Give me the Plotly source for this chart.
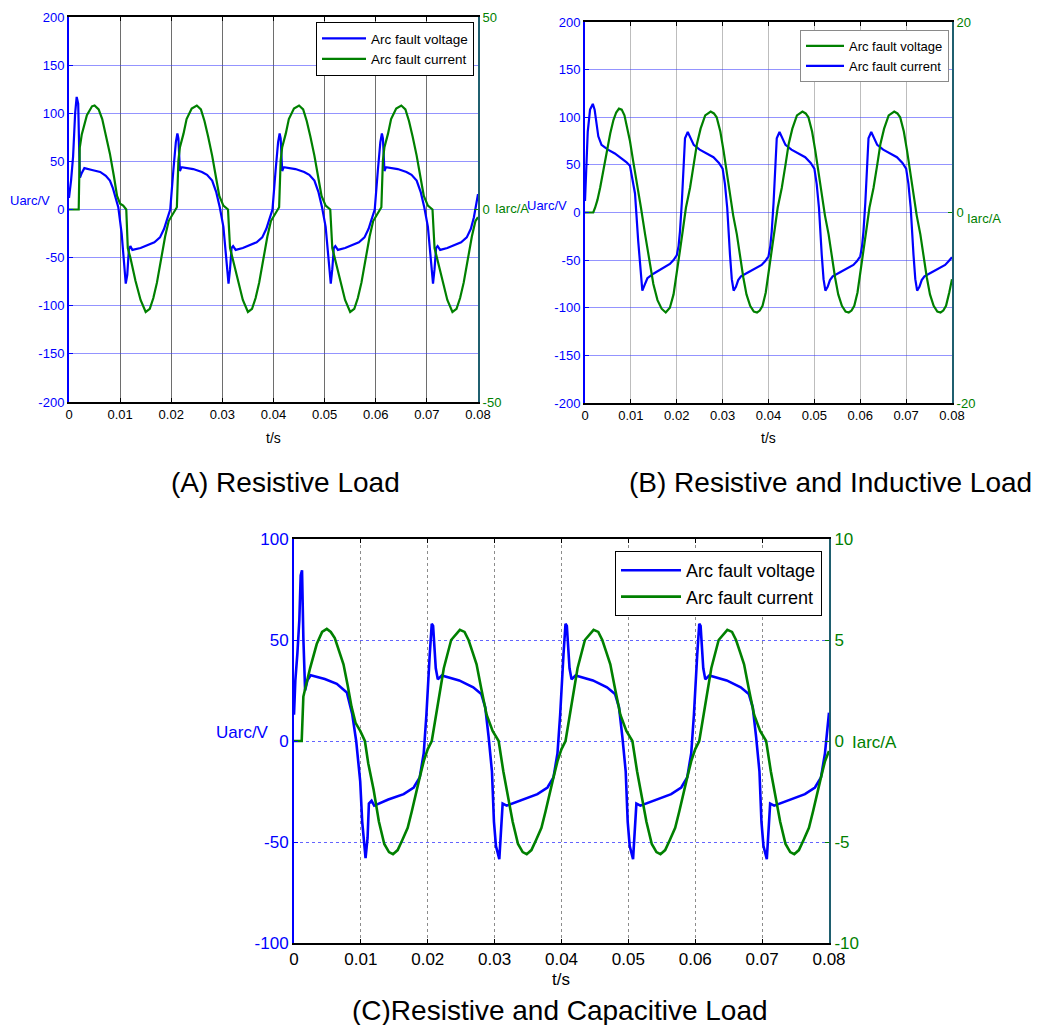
import plotly.graph_objects as go

# ---------------- data ----------------
x_tickvals = [0, 0.01, 0.02, 0.03, 0.04, 0.05, 0.06, 0.07, 0.08]
x_ticktext = ["0", "0.01", "0.02", "0.03", "0.04", "0.05", "0.06", "0.07", "0.08"]

# (A) Resistive load
t_a_volt = [0, 0.0004, 0.0008, 0.0012, 0.0015, 0.0018, 0.0020, 0.00215, 0.0025, 0.0030, 0.0045, 0.0061, 0.0072, 0.0080, 0.0086, 0.0090, 0.00965, 0.0103, 0.0107, 0.0111, 0.0114, 0.0117, 0.0120, 0.0124, 0.0140, 0.0155, 0.0167, 0.0178, 0.0186, 0.0192, 0.0198,
            0.0204, 0.0209, 0.0212, 0.0214, 0.0217, 0.0220, 0.0243, 0.0260, 0.0270, 0.0280, 0.0288, 0.0295, 0.0302, 0.0308, 0.0312, 0.0315, 0.0318, 0.0321, 0.0326, 0.0340, 0.0355, 0.0367, 0.0378, 0.0386, 0.0392, 0.0398,
            0.0404, 0.0409, 0.0412, 0.0414, 0.0417, 0.0420, 0.0443, 0.0460, 0.0470, 0.0480, 0.0488, 0.0495, 0.0502, 0.0508, 0.0512, 0.0515, 0.0518, 0.0521, 0.0526, 0.0540, 0.0555, 0.0567, 0.0578, 0.0586, 0.0592, 0.0598,
            0.0604, 0.0609, 0.0612, 0.0614, 0.0617, 0.0620, 0.0643, 0.0660, 0.0670, 0.0680, 0.0688, 0.0695, 0.0702, 0.0708, 0.0712, 0.0715, 0.0718, 0.0721, 0.0726, 0.0740, 0.0755, 0.0767, 0.0778, 0.0786, 0.0792, 0.0800]
u_a_volt = [12, 30, 55, 100, 117, 110, 60, 33, 38, 43, 41, 39, 35, 30, 22, 15, 2, -25, -55, -77, -68, -42, -38, -42, -40, -37, -34, -29, -20, -10, 0,
            40, 70, 79, 74, 40, 44, 42, 39, 36, 30, 18, 2, -18, -53, -77, -62, -40, -38, -42, -40, -37, -34, -29, -20, -10, 0,
            40, 70, 79, 74, 40, 44, 42, 39, 36, 30, 18, 2, -18, -53, -77, -62, -40, -38, -42, -40, -37, -34, -29, -20, -10, 0,
            40, 70, 79, 74, 40, 44, 42, 39, 36, 30, 18, 2, -18, -53, -77, -62, -40, -38, -42, -40, -37, -34, -29, -20, -8, 16]
t_a_cur = [0, 0.0019, 0.0021, 0.0025, 0.0035, 0.0045, 0.0050, 0.0058, 0.0065, 0.0072, 0.0080, 0.0088, 0.0094, 0.0100, 0.0106, 0.0112, 0.0115, 0.0120, 0.0130, 0.0140, 0.0150, 0.0158, 0.0165, 0.0172, 0.0180, 0.0188, 0.0195, 0.0200,
           0.0207, 0.0211, 0.0214, 0.0217, 0.0224, 0.0230, 0.0240, 0.0250, 0.0258, 0.0265, 0.0272, 0.0280, 0.0288, 0.0294, 0.0302, 0.0311, 0.0315, 0.0320, 0.0330, 0.0340, 0.0350, 0.0358, 0.0365, 0.0372, 0.0380, 0.0388, 0.0395, 0.0400,
           0.0407, 0.0411, 0.0414, 0.0417, 0.0424, 0.0430, 0.0440, 0.0450, 0.0458, 0.0465, 0.0472, 0.0480, 0.0488, 0.0494, 0.0502, 0.0511, 0.0515, 0.0520, 0.0530, 0.0540, 0.0550, 0.0558, 0.0565, 0.0572, 0.0580, 0.0588, 0.0595, 0.0600,
           0.0607, 0.0611, 0.0614, 0.0617, 0.0624, 0.0630, 0.0640, 0.0650, 0.0658, 0.0665, 0.0672, 0.0680, 0.0688, 0.0694, 0.0702, 0.0711, 0.0715, 0.0720, 0.0730, 0.0740, 0.0750, 0.0758, 0.0765, 0.0772, 0.0780, 0.0788, 0.0795, 0.0800]
i_a_cur = [0, 0, 16, 19.5, 24.5, 26.8, 27, 26, 23.5, 19.5, 14.5, 8.5, 3.5, 1.5, 1, 0, -10, -12.5, -18.5, -23.5, -26.6, -25.8, -23, -19, -13, -7, -3, -1.8,
           0, 0.6, 12.8, 16.2, 19.7, 23.5, 26.2, 27, 26, 23, 19, 14, 8, 3.5, 1, 0, -10, -12.8, -18.5, -23.5, -26.6, -25.8, -23, -19, -13, -7, -3, -1.8,
           0, 0.6, 12.8, 16.2, 19.7, 23.5, 26.2, 27, 26, 23, 19, 14, 8, 3.5, 1, 0, -10, -12.8, -18.5, -23.5, -26.6, -25.8, -23, -19, -13, -7, -3, -1.8,
           0, 0.6, 12.8, 16.2, 19.7, 23.5, 26.2, 27, 26, 23, 19, 14, 8, 3.5, 1, 0, -10, -12.8, -18.5, -23.5, -26.6, -25.8, -23, -19, -13, -7, -3, -2]

# (B) Resistive and inductive load
t_b_volt = [0, 0.0003, 0.0006, 0.0011, 0.0017, 0.0021, 0.0029, 0.0036, 0.0050, 0.0065, 0.0080, 0.0090, 0.0098, 0.0104, 0.0109, 0.0116, 0.0120, 0.0125, 0.0130, 0.0136, 0.0150, 0.0170, 0.0185, 0.0193, 0.0200,
            0.0204, 0.0207, 0.0211, 0.0215, 0.0218, 0.0224, 0.0231, 0.0237, 0.0250, 0.0265, 0.0280, 0.0292, 0.0300, 0.0305, 0.0310, 0.0316, 0.0320, 0.0324, 0.0329, 0.0334, 0.0340, 0.0355, 0.0370, 0.0385, 0.0393, 0.0400,
            0.0404, 0.0407, 0.0411, 0.0415, 0.0418, 0.0424, 0.0431, 0.0437, 0.0450, 0.0465, 0.0480, 0.0492, 0.0500, 0.0505, 0.0510, 0.0516, 0.0520, 0.0524, 0.0529, 0.0534, 0.0540, 0.0555, 0.0570, 0.0585, 0.0593, 0.0600,
            0.0604, 0.0607, 0.0611, 0.0615, 0.0618, 0.0624, 0.0631, 0.0637, 0.0650, 0.0665, 0.0680, 0.0692, 0.0700, 0.0705, 0.0710, 0.0716, 0.0720, 0.0724, 0.0729, 0.0734, 0.0740, 0.0755, 0.0770, 0.0785, 0.0793, 0.0800]
u_b_volt = [12, 60, 85, 108, 114, 108, 80, 71, 66, 62, 57, 53, 49, 35, 20, -30, -55, -82, -76, -69, -64, -58, -54, -50, -45,
            -35, -20, 10, 50, 78, 84.5, 78, 71, 66, 62, 58, 52, 46, 30, 5, -44, -70, -82, -78, -71, -67, -63, -59, -55, -51, -46,
            -35, -20, 10, 50, 78, 84.5, 78, 71, 66, 62, 58, 52, 46, 30, 5, -44, -70, -82, -78, -71, -67, -63, -59, -55, -51, -46,
            -35, -20, 10, 50, 78, 84.5, 78, 71, 66, 62, 58, 52, 46, 30, 5, -44, -70, -82, -78, -71, -67, -63, -59, -55, -51, -47]
t_b_cur = [0, 0.0018, 0.0022, 0.0027, 0.0033, 0.0040, 0.0047, 0.0055, 0.0062, 0.0068, 0.0074, 0.0080, 0.0086, 0.0092, 0.0098, 0.0105, 0.0113, 0.0122, 0.0131, 0.0140, 0.0149, 0.0158, 0.0167, 0.0176, 0.0185, 0.0193, 0.0200,
           0.0207, 0.0214, 0.0220, 0.0229, 0.0237, 0.0244, 0.0252, 0.0262, 0.0274, 0.0281, 0.0287, 0.0295, 0.0302, 0.0309, 0.0316, 0.0323, 0.0331, 0.0338, 0.0345, 0.0352, 0.0360, 0.0368, 0.0375, 0.0381, 0.0387, 0.0394, 0.0400,
           0.0407, 0.0414, 0.0420, 0.0429, 0.0437, 0.0444, 0.0452, 0.0462, 0.0474, 0.0481, 0.0487, 0.0495, 0.0502, 0.0509, 0.0516, 0.0523, 0.0531, 0.0538, 0.0545, 0.0552, 0.0560, 0.0568, 0.0575, 0.0581, 0.0587, 0.0594, 0.0600,
           0.0607, 0.0614, 0.0620, 0.0629, 0.0637, 0.0644, 0.0652, 0.0662, 0.0674, 0.0681, 0.0687, 0.0695, 0.0702, 0.0709, 0.0716, 0.0723, 0.0731, 0.0738, 0.0745, 0.0752, 0.0760, 0.0768, 0.0775, 0.0781, 0.0787, 0.0794, 0.0800]
i_b_cur = [0, 0, 0.5, 1.3, 2.6, 4.5, 6.5, 8.3, 9.7, 10.5, 10.9, 10.8, 10.2, 9, 7.5, 5.4, 3.3, 0.5, -2.3, -5, -7.5, -9.2, -10.1, -10.5, -10, -8.6, -6.5,
           -4, -1.6, 0.5, 2.6, 5, 7.2, 8.8, 10.2, 10.6, 10.4, 10, 8.5, 6.5, 4.3, 1.9, -0.3, -2.3, -4.6, -6.8, -8.6, -9.8, -10.4, -10.5, -10.3, -9.8, -8.4, -6.5,
           -4, -1.6, 0.5, 2.6, 5, 7.2, 8.8, 10.2, 10.6, 10.4, 10, 8.5, 6.5, 4.3, 1.9, -0.3, -2.3, -4.6, -6.8, -8.6, -9.8, -10.4, -10.5, -10.3, -9.8, -8.4, -6.5,
           -4, -1.6, 0.5, 2.6, 5, 7.2, 8.8, 10.2, 10.6, 10.4, 10, 8.5, 6.5, 4.3, 1.9, -0.3, -2.3, -4.6, -6.8, -8.6, -9.8, -10.4, -10.5, -10.3, -9.8, -8.4, -7]

# (C) Resistive and capacitive load
t_c_volt = [0, 0.0002, 0.0005, 0.0008, 0.0010, 0.0012, 0.0014, 0.00166, 0.0020, 0.0025, 0.0046, 0.0064, 0.0079, 0.0087, 0.0093, 0.0099, 0.0102, 0.0107, 0.0110, 0.0112, 0.0116, 0.0120, 0.0141, 0.0164, 0.0179, 0.0188, 0.0194, 0.0198,
            0.0203, 0.0206, 0.0208, 0.0210, 0.0212, 0.0215, 0.0221, 0.0247, 0.0268, 0.0280, 0.0286, 0.0291, 0.0296, 0.0299, 0.0302, 0.0307, 0.0310, 0.0312, 0.0318, 0.0341, 0.0364, 0.0379, 0.0388, 0.0394, 0.0398,
            0.0403, 0.0406, 0.0408, 0.0410, 0.0412, 0.0415, 0.0421, 0.0447, 0.0468, 0.0480, 0.0486, 0.0491, 0.0496, 0.0499, 0.0502, 0.0507, 0.0510, 0.0512, 0.0518, 0.0541, 0.0564, 0.0579, 0.0588, 0.0594, 0.0598,
            0.0603, 0.0606, 0.0608, 0.0610, 0.0612, 0.0615, 0.0621, 0.0647, 0.0668, 0.0680, 0.0686, 0.0691, 0.0696, 0.0699, 0.0702, 0.0707, 0.0710, 0.0712, 0.0718, 0.0741, 0.0764, 0.0779, 0.0788, 0.0794, 0.0800]
u_c_volt = [13, 30, 43, 60, 82, 84.5, 51, 25, 30, 32.5, 30.7, 28.3, 24, 13.4, 0, -20, -40, -58, -48, -31, -29.6, -32, -29, -26.3, -23, -18, -6, 13,
            43, 58, 57, 48, 36, 30.5, 32.4, 30, 26.6, 23.3, 16.7, 2, -15, -40, -52, -58.5, -45, -31, -32, -29, -26.3, -23, -18, -6, 13,
            43, 58, 57, 48, 36, 30.5, 32.4, 30, 26.6, 23.3, 16.7, 2, -15, -40, -52, -58.5, -45, -31, -32, -29, -26.3, -23, -18, -6, 13,
            43, 58, 57, 48, 36, 30.5, 32.4, 30, 26.6, 23.3, 16.7, 2, -15, -40, -52, -58.5, -45, -31, -32, -29, -26.3, -23, -18, -6, 14]
t_c_cur = [0, 0.00115, 0.0014, 0.0024, 0.0034, 0.0042, 0.0049, 0.0055, 0.0061, 0.0068, 0.0074, 0.0080, 0.0086, 0.0092, 0.0099, 0.0106, 0.0111, 0.0119, 0.0127, 0.0135, 0.0142, 0.0148, 0.0155, 0.0162, 0.0170, 0.0176, 0.0182, 0.0188, 0.0194, 0.0200,
           0.0206, 0.0211, 0.0216, 0.0224, 0.0235, 0.0248, 0.0255, 0.0261, 0.0267, 0.0273, 0.0280, 0.0288, 0.0297, 0.0306, 0.0313, 0.0319, 0.0327, 0.0335, 0.0342, 0.0348, 0.0355, 0.0362, 0.0370, 0.0376, 0.0382, 0.0388, 0.0394, 0.0400,
           0.0406, 0.0411, 0.0416, 0.0424, 0.0435, 0.0448, 0.0455, 0.0461, 0.0467, 0.0473, 0.0480, 0.0488, 0.0497, 0.0506, 0.0513, 0.0519, 0.0527, 0.0535, 0.0542, 0.0548, 0.0555, 0.0562, 0.0570, 0.0576, 0.0582, 0.0588, 0.0594, 0.0600,
           0.0606, 0.0611, 0.0616, 0.0624, 0.0635, 0.0648, 0.0655, 0.0661, 0.0667, 0.0673, 0.0680, 0.0688, 0.0697, 0.0706, 0.0713, 0.0719, 0.0727, 0.0735, 0.0742, 0.0748, 0.0755, 0.0762, 0.0770, 0.0776, 0.0782, 0.0788, 0.0794, 0.0800]
i_c_cur = [0, 0, 2.2, 3.6, 4.8, 5.4, 5.55, 5.4, 5.1, 4.4, 3.8, 2.8, 1.7, 0.9, 0.5, 0.0, -1.1, -2.4, -4, -5.1, -5.5, -5.6, -5.4, -4.9, -4.3, -3.5, -2.6, -1.8, -1.0, -0.4,
           0.0, 1.0, 2.0, 3.6, 5.0, 5.5, 5.4, 5.0, 4.4, 3.8, 2.6, 1.3, 0.5, 0.0, -1.5, -2.6, -4, -5.1, -5.5, -5.6, -5.4, -4.9, -4.3, -3.5, -2.6, -1.8, -1.0, -0.4,
           0.0, 1.0, 2.0, 3.6, 5.0, 5.5, 5.4, 5.0, 4.4, 3.8, 2.6, 1.3, 0.5, 0.0, -1.5, -2.6, -4, -5.1, -5.5, -5.6, -5.4, -4.9, -4.3, -3.5, -2.6, -1.8, -1.0, -0.4,
           0.0, 1.0, 2.0, 3.6, 5.0, 5.5, 5.4, 5.0, 4.4, 3.8, 2.6, 1.3, 0.5, 0.0, -1.5, -2.6, -4, -5.1, -5.5, -5.6, -5.4, -4.9, -4.3, -3.5, -2.6, -1.8, -1.0, -0.5]

yA_left_ticks = [-200, -150, -100, -50, 0, 50, 100, 150, 200]
yA_right_ticks = [-50, 0, 50]
yB_left_ticks = [-200, -150, -100, -50, 0, 50, 100, 150, 200]
yB_right_ticks = [-20, 0, 20]
yC_left_ticks = [-100, -50, 0, 50, 100]
yC_right_ticks = [-10, -5, 0, 5, 10]

captions = ["(A) Resistive Load", "(B) Resistive and Inductive Load", "(C)Resistive and Capacitive Load"]

# ---------------- style / layout ----------------
# The page body has an 8px margin, so the figure is 16px smaller than the
# 1043x1033 window and page pixel coordinates are shifted by 8px.
PAGE_W, PAGE_H = 1043, 1033
OFF = 8
W, H = PAGE_W - 2 * OFF, PAGE_H - 2 * OFF
FONT = "Liberation Sans, Arial, sans-serif"
BLUE = "#0000FF"
GREEN = "#008000"
TEAL = "#1f5f6f"


def px(x):
    return (x - OFF) / W


def py(y):
    return 1 - (y - OFF) / H


def labels(vals):
    # plain hyphen-minus, as in the original MATLAB figure
    return [str(v) for v in vals]


fig = go.Figure()

# A
fig.add_trace(go.Scatter(x=t_a_volt, y=u_a_volt, mode="lines", line=dict(color=BLUE, width=2.2),
                         name="Arc fault voltage", xaxis="x", yaxis="y", legend="legend"))
fig.add_trace(go.Scatter(x=t_a_cur, y=i_a_cur, mode="lines", line=dict(color=GREEN, width=2.2),
                         name="Arc fault current", xaxis="x", yaxis="y2", legend="legend"))
# B (legend labels as in the original figure)
fig.add_trace(go.Scatter(x=t_b_volt, y=u_b_volt, mode="lines", line=dict(color=BLUE, width=2.2),
                         name="Arc fault current", xaxis="x2", yaxis="y3", legend="legend2", legendrank=2))
fig.add_trace(go.Scatter(x=t_b_cur, y=i_b_cur, mode="lines", line=dict(color=GREEN, width=2.2),
                         name="Arc fault voltage", xaxis="x2", yaxis="y4", legend="legend2", legendrank=1))
# C
fig.add_trace(go.Scatter(x=t_c_volt, y=u_c_volt, mode="lines", line=dict(color=BLUE, width=2.6),
                         name="Arc fault voltage", xaxis="x3", yaxis="y5", legend="legend3"))
fig.add_trace(go.Scatter(x=t_c_cur, y=i_c_cur, mode="lines", line=dict(color=GREEN, width=2.6),
                         name="Arc fault current", xaxis="x3", yaxis="y6", legend="legend3"))


def xax(domain, anchor, fs, gridcolor, griddash):
    return dict(domain=domain, anchor=anchor, range=[0, 0.08], tickvals=x_tickvals, ticktext=x_ticktext,
                ticks="inside", ticklen=4, tickcolor="black", showline=True, linecolor="black", linewidth=1.5,
                mirror="ticks", showgrid=True, gridcolor=gridcolor, gridwidth=1, griddash=griddash,
                zeroline=False, automargin=False, tickfont=dict(family=FONT, size=fs, color="black"),
                fixedrange=True)


def yleft(domain, anchor, rng, ticks, fs, gridcolor, griddash):
    return dict(domain=domain, anchor=anchor, range=rng, tickvals=ticks, ticktext=labels(ticks),
                ticks="inside", ticklen=4,
                tickcolor=BLUE, showline=True, linecolor=BLUE, linewidth=2, mirror=False,
                showgrid=True, gridcolor=gridcolor, gridwidth=1, griddash=griddash, zeroline=False,
                automargin=False, tickfont=dict(family=FONT, size=fs, color=BLUE), fixedrange=True)


def yright(overlay, anchor, rng, ticks, fs):
    return dict(overlaying=overlay, anchor=anchor, side="right", range=rng, tickvals=ticks,
                ticktext=labels(ticks),
                ticks="inside", ticklen=4, tickcolor=GREEN, showline=True, linecolor=TEAL, linewidth=2,
                showgrid=False, zeroline=False, automargin=False,
                tickfont=dict(family=FONT, size=fs, color=GREEN), fixedrange=True)


domA_x = [px(69), px(478)]
domA_y = [py(402), py(17)]
domB_x = [px(585), px(952)]
domB_y = [py(403), py(22)]
domC_x = [px(294), px(829)]
domC_y = [py(943), py(539)]

HGRID = "rgba(60,60,255,0.55)"

fig.update_layout(
    width=W, height=H, autosize=False,
    margin=dict(l=0, r=0, t=0, b=0, pad=0, autoexpand=False),
    paper_bgcolor="white", plot_bgcolor="white",
    font=dict(family=FONT),
    xaxis=xax(domA_x, "y", 13, "#6e6e6e", "solid"),
    yaxis=yleft(domA_y, "x", [-200, 200], yA_left_ticks, 13, HGRID, "solid"),
    yaxis2=yright("y", "x", [-50, 50], yA_right_ticks, 13),
    xaxis2=xax(domB_x, "y3", 13, "#bdbdbd", "solid"),
    yaxis3=yleft(domB_y, "x2", [-200, 200], yB_left_ticks, 13, HGRID, "solid"),
    yaxis4=yright("y3", "x2", [-20, 20], yB_right_ticks, 13),
    xaxis3=xax(domC_x, "y5", 17, "#8c8c8c", "dot"),
    yaxis5=yleft(domC_y, "x3", [-100, 100], yC_left_ticks, 17, "rgba(60,60,255,0.8)", "dot"),
    yaxis6=yright("y5", "x3", [-10, 10], yC_right_ticks, 17),
    legend=dict(x=px(474), y=py(22), xanchor="right", yanchor="top", bgcolor="white",
                bordercolor="black", borderwidth=1, itemwidth=44, tracegroupgap=0,
                font=dict(family=FONT, size=13.5, color="black")),
    legend2=dict(x=px(949), y=py(30), xanchor="right", yanchor="top", bgcolor="white",
                 bordercolor="#8a8a8a", borderwidth=1, itemwidth=38, tracegroupgap=0,
                 font=dict(family=FONT, size=13, color="black")),
    legend3=dict(x=px(822), y=py(551), xanchor="right", yanchor="top", bgcolor="white",
                 bordercolor="black", borderwidth=1, itemwidth=60, tracegroupgap=0,
                 font=dict(family=FONT, size=18, color="black")),
    showlegend=True,
)

ann = []
# axis titles
ann.append(dict(text="Uarc/V", x=px(52), y=py(201), xanchor="right", yanchor="middle",
                font=dict(family=FONT, size=13, color=BLUE)))
ann.append(dict(text="Iarc/A", x=px(493), y=py(208), xanchor="left", yanchor="middle",
                font=dict(family=FONT, size=13, color=GREEN)))
ann.append(dict(text="Uarc/V", x=px(569), y=py(205), xanchor="right", yanchor="middle",
                font=dict(family=FONT, size=13, color=BLUE)))
ann.append(dict(text="Iarc/A", x=px(965), y=py(218), xanchor="left", yanchor="middle",
                font=dict(family=FONT, size=13, color=GREEN)))
ann.append(dict(text="Uarc/V", x=px(271), y=py(732), xanchor="right", yanchor="middle",
                font=dict(family=FONT, size=17, color=BLUE)))
ann.append(dict(text="Iarc/A", x=px(850), y=py(742), xanchor="left", yanchor="middle",
                font=dict(family=FONT, size=17, color=GREEN)))
# x titles
ann.append(dict(text="t/s", x=px(273), y=py(438), xanchor="center", yanchor="middle",
                font=dict(family=FONT, size=14, color="black")))
ann.append(dict(text="t/s", x=px(768), y=py(438), xanchor="center", yanchor="middle",
                font=dict(family=FONT, size=14, color="black")))
ann.append(dict(text="t/s", x=px(561), y=py(979), xanchor="center", yanchor="middle",
                font=dict(family=FONT, size=17, color="black")))
# captions
ann.append(dict(text=captions[0], x=px(285), y=py(482), xanchor="center", yanchor="middle",
                font=dict(family=FONT, size=28, color="black")))
ann.append(dict(text=captions[1], x=px(830), y=py(482), xanchor="center", yanchor="middle",
                font=dict(family=FONT, size=28, color="black")))
ann.append(dict(text=captions[2], x=px(560), y=py(1010), xanchor="center", yanchor="middle",
                font=dict(family=FONT, size=28, color="black")))
for a in ann:
    a.update(xref="paper", yref="paper", showarrow=False)
fig.update_layout(annotations=ann)

fig.write_html("out.html")
